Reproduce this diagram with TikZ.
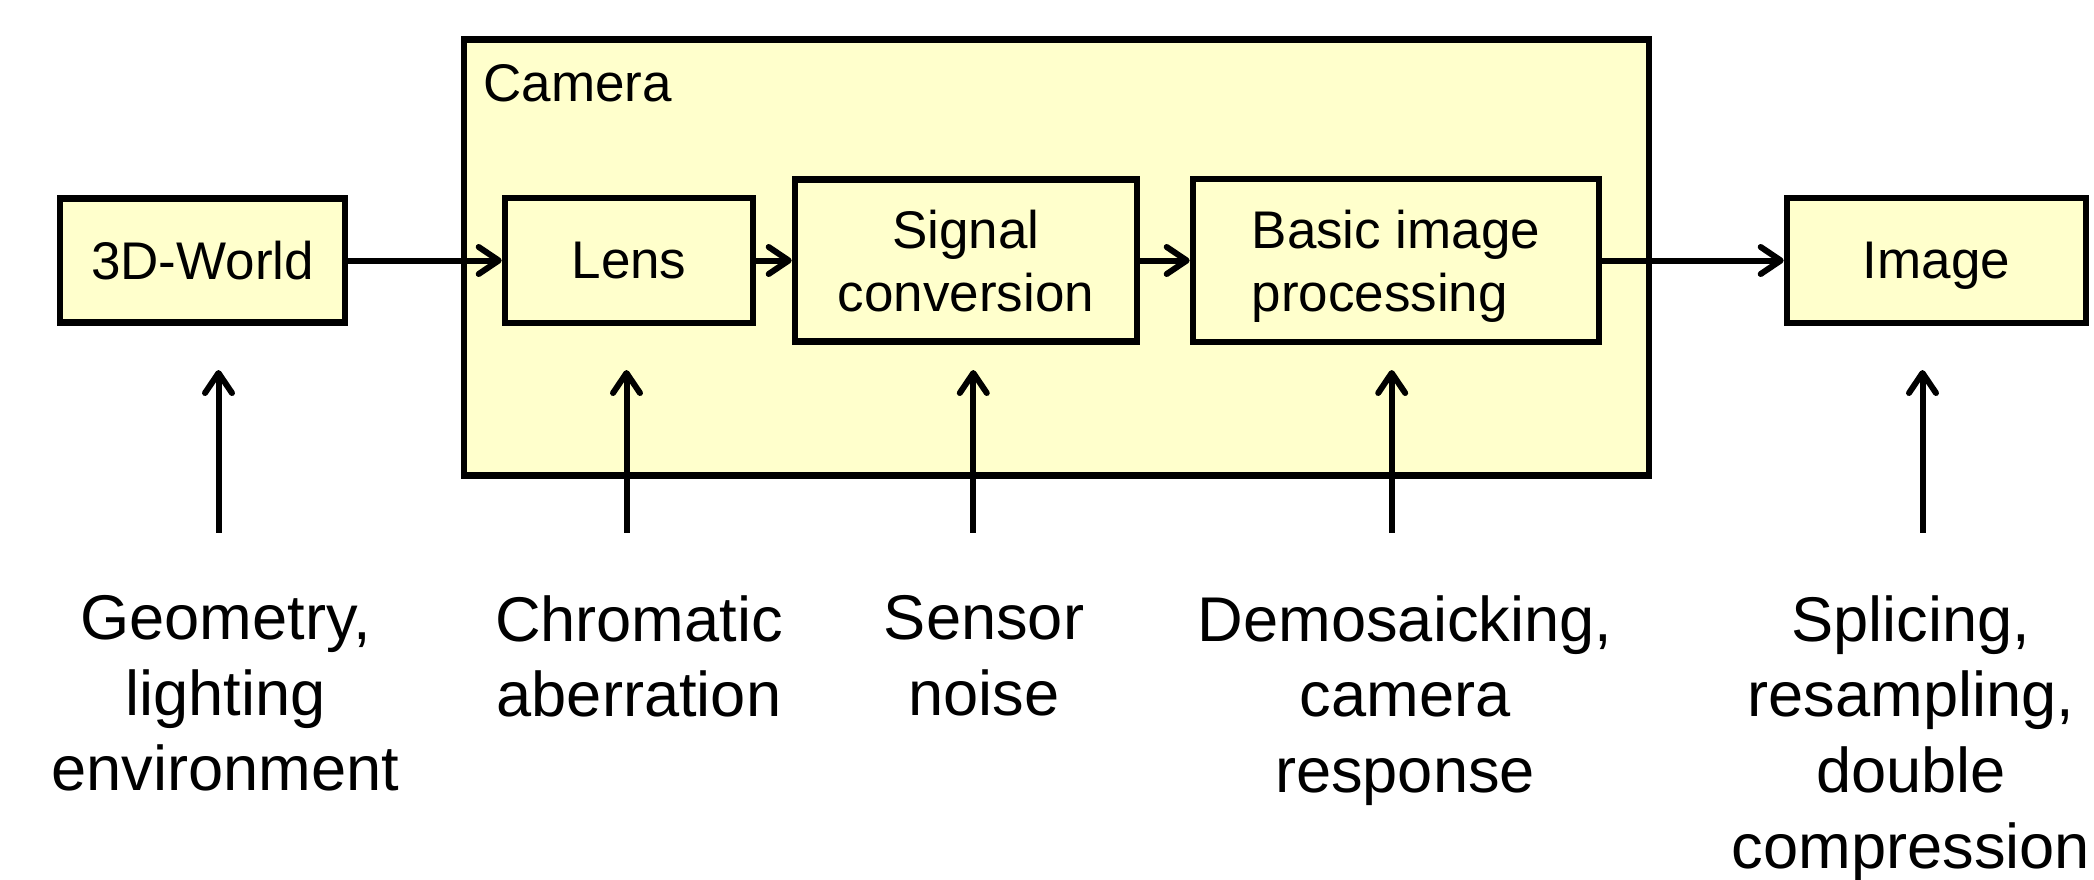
\documentclass[tikz,border=0pt]{standalone}
\usepackage{fontspec}
\setmainfont{Liberation Sans}
\usetikzlibrary{arrows.meta}
\definecolor{boxfill}{RGB}{255,255,204}
\newcommand{\boxfont}{\fontsize{26.5pt}{31.5pt}\selectfont}
\newcommand{\lblfont}{\fontsize{31.6pt}{37.85pt}\selectfont}
\begin{document}
\begin{tikzpicture}[x=0.5pt,y=-0.5pt,
  box/.style={draw, line width=3.3pt, fill=boxfill, inner sep=0pt,
    text depth=0pt, font=\boxfont},
  flow/.style={line width=3pt,
    -{Straight Barb[length=10pt,width=13.5pt,round]}},
  lbl/.style={anchor=north, align=center, inner sep=0pt, font=\lblfont}]
\useasboundingbox (0,0) rectangle (2094,879);

% camera enclosure
\node[box, minimum width=592.5pt, minimum height=218pt] (camera) at (1056.5,257.5) {};
\node[anchor=base west, inner sep=0pt, font=\boxfont] (camlabel) at (483,101.7) {Camera};

% pipeline stages
\node[box, minimum width=142.5pt, minimum height=62pt] (world) at (202.5,260.5) {3D-World};
\node[box, minimum width=124pt, minimum height=62.5pt] (lens) at (629,260.5) {Lens};
\node[box, minimum width=171pt, minimum height=81pt, align=center] (signal) at (966,260.5) {Signal\\conversion};
\node[box, minimum width=203pt, minimum height=81.5pt, align=left] (basic) at (1396,260.5) {Basic image\\processing};
\node[box, minimum width=149.5pt, minimum height=62.5pt] (image) at (1936.5,260.5) {Image};

\draw[flow] (world.east) -- (lens.west);
\draw[flow] (lens.east) -- (signal.west);
\draw[flow] (signal.east) -- (basic.west);
\draw[flow] (basic.east) -- (image.west);

% traces left by each stage
\node[lbl] (geom) at (225.5,595) {Geometry,\\lighting\\environment};
\node[lbl] (chrom) at (639,595) {Chromatic\\aberration};
\node[lbl] (noise) at (984,595) {Sensor\\noise};
\node[lbl] (demos) at (1405,595) {Demosaicking,\\camera\\response};
\node[lbl] (splice) at (1911,595) {Splicing,\\resampling,\\double\\compression};

\coordinate (b1) at (218.5,532.7);  \coordinate (t1) at (218.5,370);
\coordinate (b2) at (626.5,532.7);  \coordinate (t2) at (626.5,370);
\coordinate (b3) at (973.3,532.7);  \coordinate (t3) at (973.3,370);
\coordinate (b4) at (1391.7,532.7); \coordinate (t4) at (1391.7,370);
\coordinate (b5) at (1922.5,532.7); \coordinate (t5) at (1922.5,370);
\foreach \i in {1,...,5} \draw[flow] (b\i) -- (t\i);
\end{tikzpicture}
\end{document}
